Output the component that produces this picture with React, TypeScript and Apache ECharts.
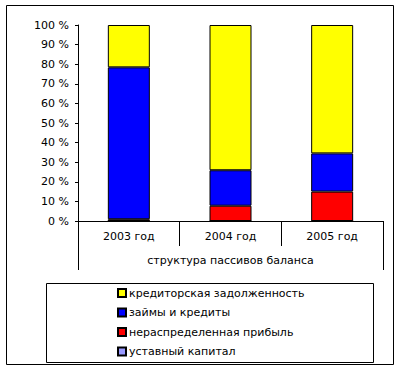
import React, { useEffect, useRef } from "react";
import * as echarts from "echarts";

const categories = ["2003 год", "2004 год", "2005 год"];
const groupLabel = ["структура пассивов баланса"];
const ustavnyi = [0, 0, 0];
const pribyl = [0.9, 7.8, 15.0];
const zaimy = [77.5, 18.1, 19.5];
const kreditorka = [21.6, 74.1, 65.5];
const legendOrder = [
  "кредиторская задолженность",
  "займы и кредиты",
  "нераспределенная прибыль",
  "уставный капитал",
];

const FONT = "'DejaVu Sans', Verdana, sans-serif";
const FS = 11;

export default function App() {
  const ref = useRef<HTMLDivElement>(null);
  useEffect(() => {
    const chart = echarts.init(ref.current!, null, { renderer: "svg" });
    const mk = (name: string, data: number[], color: string) => ({
      name,
      type: "bar",
      stack: "total",
      data,
      barWidth: 42,
      itemStyle: { color, borderColor: "#000", borderWidth: 1 },
    });
    chart.setOption({
      animation: false,
      backgroundColor: "#fff",
      textStyle: { fontFamily: FONT },
      grid: { left: 78, top: 25, right: 18, bottom: 150, containLabel: false },
      xAxis: [
        {
          type: "category",
          data: categories,
          position: "bottom",
          axisLine: { show: true, lineStyle: { color: "#000", width: 1 } },
          axisTick: { show: true, length: 25, lineStyle: { color: "#000" } },
          axisLabel: { color: "#000", fontSize: FS, margin: 10, fontFamily: FONT },
        },
        {
          type: "category",
          data: groupLabel,
          position: "bottom",
          offset: 25,
          axisLine: { show: false },
          axisTick: { show: true, length: 24, lineStyle: { color: "#000" } },
          axisLabel: { color: "#000", fontSize: FS, margin: 9, fontFamily: FONT },
        },
      ],
      yAxis: {
        type: "value",
        min: 0,
        max: 100,
        interval: 10,
        axisLine: { show: true, lineStyle: { color: "#000", width: 1 } },
        axisTick: { show: true, length: 3, lineStyle: { color: "#000" } },
        axisLabel: { color: "#000", fontSize: FS, margin: 9, formatter: "{value} %", fontFamily: FONT },
        splitLine: { show: false },
      },
      legend: {
        data: legendOrder,
        orient: "vertical",
        left: 112,
        top: 282,
        itemWidth: 8,
        itemHeight: 8,
        itemGap: 7.5,
        icon: "rect",
        textStyle: { color: "#000", fontSize: FS, fontFamily: FONT, padding: [0, 0, 0, -2], lineHeight: 12 },
      },
      graphic: [
        {
          type: "rect",
          shape: { x: 6.5, y: 5.5, width: 387, height: 359 },
          style: { fill: "none", stroke: "#000", lineWidth: 1 },
          silent: true,
        },
        {
          type: "rect",
          shape: { x: 46.5, y: 283.5, width: 327, height: 79 },
          style: { fill: "none", stroke: "#000", lineWidth: 1 },
          silent: true,
        },
      ],
      series: [
        mk("уставный капитал", ustavnyi, "#9999FF"),
        mk("нераспределенная прибыль", pribyl, "#FF0000"),
        mk("займы и кредиты", zaimy, "#0000FF"),
        mk("кредиторская задолженность", kreditorka, "#FFFF00"),
      ],
    });
    return () => chart.dispose();
  }, []);
  return (
    <div
      ref={ref}
      style={{ position: "absolute", left: 0, top: 0, width: 401, height: 371 }}
    />
  );
}
